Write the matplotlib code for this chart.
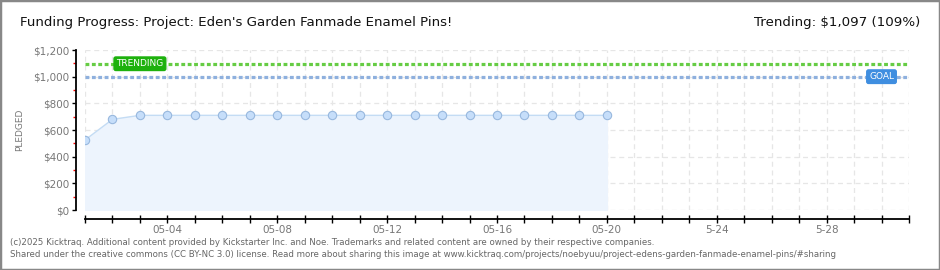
import datetime as dt

import matplotlib
matplotlib.use("Agg")
import matplotlib.pyplot as plt
import matplotlib.dates as mdates
from matplotlib.patches import Rectangle
from matplotlib.ticker import MultipleLocator, FuncFormatter

# pledged amount per day (May)
days = [dt.date(2025, 5, d) for d in range(1, 21)]
pledged = [525, 680, 710, 710, 710, 710, 710, 710, 710, 710,
           710, 710, 710, 710, 710, 710, 710, 710, 710, 710]
goal = 1000
trending = 1097
x_start = dt.date(2025, 5, 1)
x_end = dt.date(2025, 5, 31)


def day_label(v, pos):
    d = mdates.num2date(v)
    if d.day % 4:
        return ""
    return d.strftime("%m-%d") if d.day <= 20 else f"{d.month}-{d.day:02d}"


fig = plt.figure(figsize=(9.4, 2.7), dpi=100)
fig.patches.append(Rectangle((0, 0), 1, 1, transform=fig.transFigure, fill=False,
                             edgecolor="#888888", linewidth=2.5))
ax = fig.add_axes([0.0904, 0.2222, 0.8766, 0.5926])

ax.fill_between(days, pledged, 0, color="#edf4fd", zorder=1)
ax.plot(days, pledged, color="#c4dcf4", linewidth=1, zorder=3)
ax.plot(days, pledged, "o", markersize=6, markerfacecolor="#c6defa",
        markeredgecolor="#98b8de", markeredgewidth=0.8, zorder=4)

ax.axhline(trending, color="#66cc44", linestyle=(0, (1.2, 0.8)), linewidth=2.3, zorder=2)
ax.axhline(goal, color="#8eb0de", linestyle=(0, (1.2, 0.8)), linewidth=2.3, zorder=2)

ax.set_xlim(x_start, x_end)
ax.set_ylim(0, 1200)

ax.xaxis.set_major_locator(mdates.DayLocator(interval=1))
ax.xaxis.set_major_formatter(FuncFormatter(day_label))
ax.yaxis.set_major_locator(MultipleLocator(200))
ax.yaxis.set_minor_locator(MultipleLocator(100))
ax.yaxis.set_major_formatter(FuncFormatter(lambda v, p: f"${v:,.0f}"))

ax.grid(True, which="major", color="#e6e6e6", linestyle=(0, (4, 3)), linewidth=0.9, zorder=0)
ax.set_axisbelow(True)

for s in ("top", "right"):
    ax.spines[s].set_visible(False)
ax.spines["left"].set_position(("outward", 6.5))
ax.spines["bottom"].set_position(("outward", 6.5))
ax.spines["left"].set_linewidth(1.3)
ax.spines["bottom"].set_linewidth(1.3)

ax.tick_params(axis="x", direction="inout", length=6, width=1, colors="black",
               labelcolor="#777777", labelsize=7.5, pad=1)
ax.tick_params(axis="y", which="major", direction="out", length=3, width=1,
               labelcolor="#777777", labelsize=7.5, pad=2)
ax.tick_params(axis="y", which="minor", direction="out", length=2.5, width=1, color="red")

ax.set_ylabel("PLEDGED", fontsize=6.5, color="#777777")
ax.yaxis.set_label_coords(-0.074, 0.5)

ax.text(dt.date(2025, 5, 3) - dt.timedelta(hours=14), trending, "TRENDING", fontsize=6.5,
        color="white", ha="center", va="center", zorder=5,
        bbox=dict(boxstyle="round,pad=0.25,rounding_size=0.2", fc="#1db10d", ec="#1db10d"))
ax.text(dt.date(2025, 5, 30), goal, "GOAL", fontsize=6.5, color="white",
        ha="center", va="center", zorder=5,
        bbox=dict(boxstyle="round,pad=0.25,rounding_size=0.2", fc="#3f8ee0", ec="#3f8ee0"))

fig.text(0.0213, 0.915, "Funding Progress: Project: Eden's Garden Fanmade Enamel Pins!",
         fontsize=9.6, color="#111111", va="center")
fig.text(0.979, 0.915, "Trending: $1,097 (109%)", fontsize=9.6, color="#111111",
         ha="right", va="center")
fig.text(0.0106, 0.103, "(c)2025 Kicktraq. Additional content provided by Kickstarter Inc. and Noe. "
         "Trademarks and related content are owned by their respective companies.",
         fontsize=6.2, color="#666666", va="center")
fig.text(0.0106, 0.058, "Shared under the creative commons (CC BY-NC 3.0) license. "
         "Read more about sharing this image at "
         "www.kicktraq.com/projects/noebyuu/project-edens-garden-fanmade-enamel-pins/#sharing",
         fontsize=6.2, color="#666666", va="center")

fig.savefig("out.png", dpi=100)
